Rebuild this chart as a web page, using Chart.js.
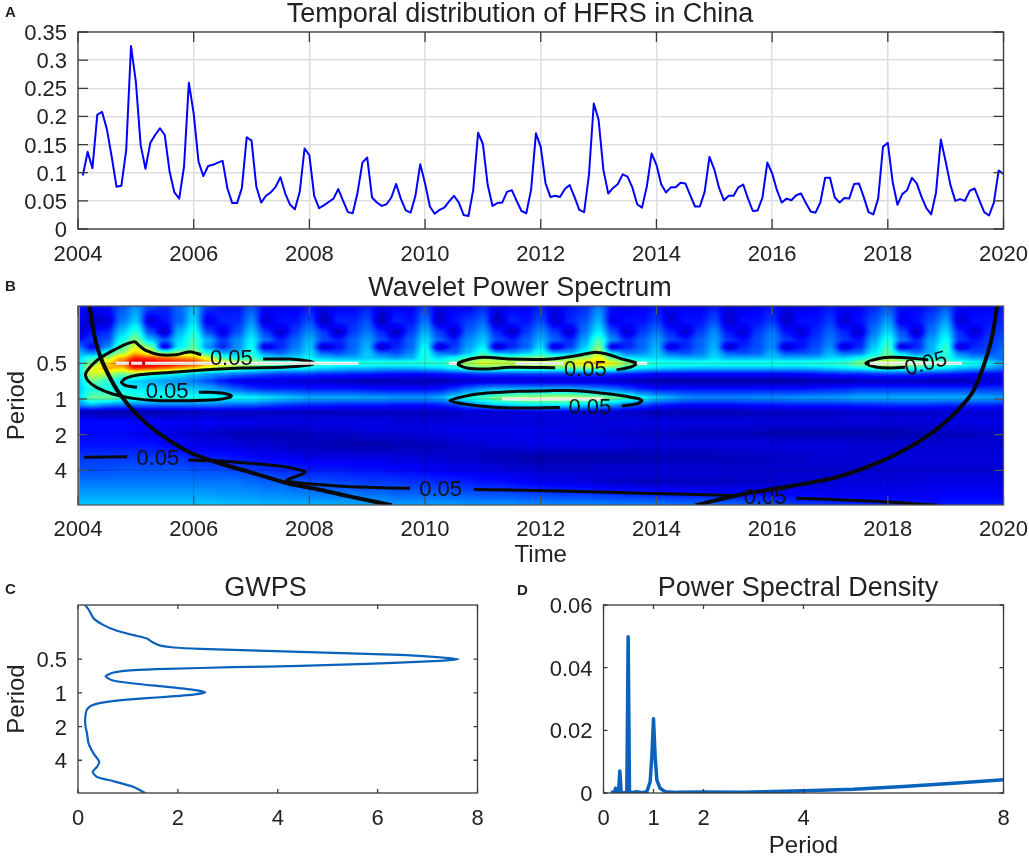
<!DOCTYPE html>
<html>
<head>
<meta charset="utf-8">
<style>
html, body { margin: 0; padding: 0; background: #fff; overflow: hidden; }
#page { position: relative; width: 1029px; height: 857px; overflow: hidden; }
canvas { position: absolute; }
.letter { position: absolute; font: bold 15px "Liberation Sans", Arial, sans-serif; color: #222; }
</style>
<script src="https://cdn.jsdelivr.net/npm/chart.js@4"></script>
</head>
<body>
<div id="page">
  <canvas id="panelA"></canvas>
  <canvas id="panelB"></canvas>
  <canvas id="panelC"></canvas>
  <canvas id="panelD"></canvas>
  <div class="letter" style="left:5px;top:3px">A</div>
  <div class="letter" style="left:5px;top:277px">B</div>
  <div class="letter" style="left:5px;top:580px">C</div>
  <div class="letter" style="left:517px;top:581px">D</div>
</div>
<script>
// A: monthly HFRS series, 2004-2019
const hfrs = [
  .095,.137,.108,.203,.208,.177,.128,.075,.077,.14,.325,.262,
  .149,.107,.153,.167,.179,.167,.102,.065,.054,.111,.26,.205,
  .12,.094,.112,.114,.118,.121,.072,.046,.046,.073,.163,.157,
  .075,.047,.059,.065,.075,.092,.063,.043,.035,.066,.143,.131,
  .059,.037,.042,.048,.054,.071,.05,.03,.028,.065,.118,.127,
  .056,.047,.041,.044,.056,.08,.053,.033,.029,.059,.115,.081,
  .04,.027,.034,.038,.049,.059,.047,.025,.023,.07,.171,.151,
  .078,.041,.046,.047,.066,.069,.05,.032,.028,.07,.17,.146,
  .081,.057,.059,.057,.071,.078,.057,.034,.03,.096,.223,.194,
  .105,.063,.073,.08,.097,.093,.074,.044,.038,.075,.134,.114,
  .079,.065,.074,.074,.082,.081,.06,.04,.04,.066,.128,.106,
  .073,.051,.059,.059,.074,.079,.054,.032,.033,.056,.118,.099,
  .069,.047,.054,.051,.06,.063,.046,.031,.029,.047,.091,.091,
  .056,.047,.055,.054,.08,.081,.057,.03,.026,.054,.146,.153,
  .084,.043,.062,.069,.091,.081,.057,.037,.026,.065,.159,.12,
  .078,.05,.053,.05,.068,.072,.051,.03,.024,.047,.104,.098
];
const yearTicks = [2004, 2006, 2008, 2010, 2012, 2014, 2016, 2018, 2020];
const hfrsTicks = [0, .05, .1, .15, .2, .25, .3, .35];
const periodTicks = [.5, 1, 2, 4];
const periodMin = .164, periodMax = 7.85;

// B: wavelet power, colour level 0-100. One row per period, one column per quarter year
const heatStart = 2004, heatStep = .25, heatLeftEdge = 2004.03;
const heatPeriods = [.1645, .22, .272, .318, .364, .409, .451, .5, .548, .616, .705, .824, .98, 1.124, 1.287, 1.563, 1.936, 2.44, 3.14, 3.97, 5.01, 6.32, 7.85];
const heatLevels = [
  [14,12,14,20, 26,20,16,22, 30,18,14,14, 20,13,12,12, 14,10,12,12, 15,10,12,12, 18,10,12,12, 16,10,12,12, 15,10,14,16, 24,14,10,12, 14,11,12,12, 14,10,10,12, 14,10,10,12, 14,12,12,16, 20,14,13,15, 20,13,12,12, 14],
  [12,6,8,24, 32,8,14,22, 34,10,16,16, 26,8,14,14, 20,6,16,16, 20,6,16,14, 24,7,14,18, 22,6,16,14, 20,8,16,20, 30,10,14,14, 18,8,14,14, 20,7,14,14, 18,7,14,14, 18,8,14,20, 28,10,14,20, 28,8,14,14, 16],
  [7,14,16,32, 42,20,7,30, 40,20,10,20, 32,18,7,18, 26,18,6,18, 24,16,6,18, 30,18,8,22, 28,16,7,18, 26,18,8,24, 36,20,8,18, 24,16,8,18, 26,14,8,18, 24,14,8,16, 22,16,8,24, 34,20,7,24, 34,16,8,16, 18],
  [14,18,20,38, 50,32,22,34, 44,30,18,26, 36,24,16,22, 30,20,16,22, 28,20,14,22, 34,22,16,26, 32,20,16,22, 30,22,16,28, 44,26,16,22, 28,20,16,22, 28,18,14,20, 26,18,14,18, 24,18,14,28, 40,24,16,28, 38,18,14,18, 20],
  [24,12,26,44, 58,50,8,36, 46,26,16,26, 38,8,16,24, 32,7,14,22, 30,6,16,22, 38,7,18,28, 36,6,16,22, 34,7,18,32, 50,8,16,22, 30,8,16,22, 30,7,16,20, 26,7,14,20, 26,8,16,32, 44,8,16,30, 42,8,16,18, 22],
  [30,26,40,52, 68,60,50,52, 54,40,30,30, 40,26,22,28, 34,22,20,24, 32,22,20,26, 40,24,22,32, 42,30,28,32, 40,30,30,38, 56,34,24,26, 32,22,20,24, 32,22,20,22, 30,20,20,22, 30,22,24,36, 46,32,24,30, 42,24,20,20, 24],
  [34,42,54,70, 84,82,78,74, 72,60,44,40, 44,36,34,34, 36,32,30,30, 32,30,28,30, 40,34,38,44, 52,50,48,50, 50,48,50,54, 62,46,36,34, 34,32,30,30, 34,30,30,30, 32,30,30,30, 34,34,38,44, 50,46,40,38, 40,32,28,26, 22],
  [36,50,66,78, 94,93,91,89, 86,76,68,62, 56,52,48,47, 46,44,43,42, 42,42,42,42, 42,42,46,55, 60,58,57,57, 58,59,60,66, 70,62,52,46, 42,41,41,41, 41,41,41,41, 41,41,41,42, 42,44,50,56, 62,58,54,50, 47,44,40,36, 30],
  [36,60,70,68, 84,82,78,72, 66,56,50,46, 44,40,38,38, 37,35,33,32, 32,30,30,30, 32,34,38,44, 46,46,46,46, 46,46,48,50, 52,46,40,36, 34,33,32,31, 31,31,31,31, 31,31,31,32, 34,36,38,42, 44,42,40,38, 36,32,30,28, 24],
  [35,58,56,48, 50,42,38,36, 32,28,26,24, 22,20,18,18, 18,16,16,15, 15,14,13,13, 13,14,15,16, 18,18,18,18, 18,18,18,18, 18,17,15,14, 12,12,12,12, 12,12,12,12, 12,12,13,14, 15,16,16,17, 18,18,17,16, 15,14,13,12, 12],
  [33,48,42,36, 33,30,28,26, 24,20,14,10, 9,9,9,8, 8,7,6,6, 5,5,5,5, 5,5,6,7, 8,8,8,8, 8,8,8,8, 8,7,6,5, 5,4,4,4, 4,4,4,4, 4,4,4,5, 5,5,6,6, 6,6,6,5, 5,5,6,8, 10],
  [33,40,40,38, 36,35,34,33, 32,30,26,22, 18,16,16,16, 15,15,15,15, 14,13,13,13, 13,14,18,24, 28,30,30,30, 30,30,30,28, 26,24,20,16, 14,14,14,14, 14,14,14,14, 14,14,14,15, 16,16,18,18, 18,18,18,18, 18,18,18,18, 18],
  [34,48,48,44, 42,40,40,40, 40,40,38,38, 38,36,34,32, 30,30,30,30, 29,29,28,28, 28,30,36,40, 44,50,52,54, 55,56,56,54, 52,48,44,38, 33,30,27,26, 26,26,26,27, 27,27,28,28, 28,29,30,30, 30,30,30,30, 30,30,30,29, 28],
  [26,30,26,24, 24,24,24,24, 24,24,23,22, 22,20,18,17, 16,16,15,15, 15,15,14,14, 14,15,18,24, 28,32,34,36, 36,36,36,34, 32,28,24,20, 16,14,13,13, 13,13,14,14, 14,15,15,15, 15,15,16,16, 17,17,17,17, 16,16,16,16, 15],
  [6,5,4,4, 4,4,5,5, 6,6,6,6, 6,6,6,6, 6,6,6,6, 6,6,6,6, 6,6,7,8, 8,8,8,9, 9,9,9,9, 8,8,7,6, 5,5,5,5, 5,5,5,6, 6,6,6,6, 6,7,7,7, 7,7,7,7, 8,8,8,8, 8],
  [13,13,13,13, 13,13,12,12, 12,12,11,11, 11,10,10,10, 10,10,10,10, 10,10,9,9, 9,9,9,9, 9,9,9,9, 9,9,9,9, 9,9,10,10, 10,10,10,10, 10,10,10,9, 9,9,9,9, 9,9,9,9, 9,9,9,9, 10,10,10,10, 10],
  [13,13,13,13, 12,11,10,9, 8,8,7,6, 6,6,6,6, 7,8,8,8, 9,9,9,9, 10,10,11,11, 11,11,11,11, 11,10,10,9, 9,8,8,7, 7,7,6,6, 6,6,6,6, 5,5,5,5, 5,5,5,5, 5,5,6,6, 7,7,7,8, 8],
  [14,14,14,14, 14,14,13,12, 11,10,10,9, 8,8,7,6, 6,5,5,4, 4,4,5,5, 6,6,7,8, 8,9,9,10, 10,10,10,10, 10,10,9,9, 9,9,9,9, 9,9,9,9, 9,9,9,9, 9,9,8,8, 8,8,8,8, 8,8,8,8, 8],
  [18,18,18,18, 18,18,17,17, 16,15,15,14, 13,12,12,11, 10,10,10,10, 10,10,9,9, 8,8,7,7, 6,5,5,4, 4,4,4,4, 4,4,4,4, 5,5,5,5, 5,6,6,6, 7,7,7,8, 8,8,8,9, 9,9,9,9, 9,9,9,9, 9],
  [20,20,20,21, 21,21,21,21, 20,20,20,19, 18,17,16,16, 15,15,15,14, 14,14,13,13, 12,12,11,11, 10,10,9,9, 8,8,8,8, 9,9,9,9, 9,9,9,9, 9,8,8,8, 8,8,8,8, 8,8,8,8, 8,8,8,8, 8,8,8,8, 8],
  [24,24,24,24, 24,24,24,24, 24,24,24,24, 23,22,22,21, 20,20,19,19, 18,18,18,17, 17,16,16,15, 14,14,13,12, 11,10,10,9, 8,7,7,6, 6,6,6,6, 6,6,7,7, 7,8,8,8, 8,9,9,9, 9,9,9,10, 10,10,10,10, 10],
  [28,28,28,28, 28,28,28,28, 28,28,27,27, 27,26,26,25, 25,24,24,24, 23,23,22,22, 22,22,21,21, 20,20,20,19, 19,18,18,18, 17,17,16,16, 15,15,14,14, 14,14,13,13, 12,12,12,12, 11,11,11,11, 11,11,11,11, 12,12,12,12, 12],
  [32,32,32,32, 32,32,32,32, 32,32,32,31, 31,30,30,30, 30,30,29,29, 29,29,28,28, 28,28,28,27, 27,27,27,26, 26,26,26,26, 26,25,25,25, 25,24,24,24, 23,23,22,21, 20,19,18,18, 17,17,16,16, 16,15,15,15, 15,15,15,15, 15]
];

// B: 5% significance contours, null breaks the line where a label sits
const contourTimes = [
  2006.13,2005.93,2005.7,2005.41,2005.18,2005.06,2004.98,2004.83,2004.6,2004.4,2004.23,2004.13,2004.17,2004.32,2004.6,2004.95,2005.41,2005.93,2006.39,2006.62,2006.65,2006.51,2006.28,2006.09,null,
  2005.02,2004.83,2004.75,2004.83,2005.06,2005.58,2006.16,2006.85,2007.54,2008,2008.09,2008,2007.66,2007.2,null,
  2012.25,2011.47,2011.07,2010.72,2010.56,2010.72,2011.01,2011.47,2012.05,2012.39,2012.68,2012.91,2013.14,2013.43,2013.66,2013.57,2013.31,null,
  2012.33,2011.47,2010.9,2010.43,2010.9,2011.59,2012.16,2012.62,2013.2,2013.66,2013.75,2013.66,2013.4,null,
  2018.3,2018.04,2017.81,2017.62,2017.81,2018.04,2018.38,2018.7,null,
  2004.1,2004.85,null,
  2005.91,2006.4,2006.98,2007.55,2007.84,2007.93,2007.84,2007.61,2007.73,2008.42,2009,2009.74,null,
  2010.84,2011.47,2013.2,2014.35,2015.36,null,
  2016.42,2017.23,2018.1,2018.87
];
const contourPeriods = [
  .423,.399,.423,.423,.391,.355,.328,.344,.391,.445,.523,.615,.7,.797,.907,.988,1.033,1.033,1.013,.969,.938,.896,.878,.878,null,
  .797,.772,.723,.665,.623,.596,.569,.547,.54,.517,.5,.481,.46,.46,null,
  .544,.54,.558,.547,.505,.468,.445,.46,.463,.448,.425,.404,.417,.463,.5,.534,.569,null,
  1.18,1.19,1.138,1.033,.907,.861,.85,.85,.907,.987,1.033,1.1,1.146,null,
  .54,.547,.54,.5,.46,.445,.45,.468,null,
  3.11,3.07,null,
  3.27,3.32,3.49,3.72,3.98,4.13,4.38,4.83,5.05,5.39,5.57,5.68,null,
  5.82,5.86,6.13,6.34,6.54,null,
  6.89,7.12,7.45,7.89
];
const contourLabelTimes = [2006.65, 2005.54, 2005.38, 2010.27, 2012.77, 2012.85, 2018.66, 2015.88];
const contourLabelPeriods = [.46, .878, 3.2, 5.86, .569, 1.2, .51, 6.89];
const contourLabelAngles = [0, 0, 0, 0, 0, 0, -15, 0];

// B: cone of influence
const coneTimes = [2004.2,2004.27,2004.37,2004.52,2004.72,2005.01,2005.41,2005.93,2006.39,2006.97,2007.66,2008.12,2008.71,2009.43,null,2014.67,2015.5,2015.97,2017.12,2017.98,2018.56,2018.96,2019.31,2019.48,2019.65,2019.8,2019.89];
const conePeriods = [.164,.27,.417,.615,.906,1.34,1.97,2.82,3.42,4.14,5.2,5.75,6.67,7.89,null,7.89,6.34,5.8,4.57,3.2,2.25,1.625,1.1,.85,.536,.302,.164];

// B: white ridge lines along the power maxima
const ridgeTimes = [2004.65,2004.88,null,2004.92,2005.11,null,2005.16,2008.85,null,2010.41,2010.55,null,2011.56,2012.39,null,2013.66,2013.84,null,2017.69,2019.28,null,2011.33,2013.08];
const ridgePeriods = [.5,.5,null,.5,.5,null,.5,.5,null,.5,.5,null,.5,.5,null,.5,.5,null,.5,.5,null,1,1];

// C: global wavelet power spectrum
const gwpsPower = [.147,.213,.313,.513,.78,1.113,1.38,1.513,1.647,1.913,2.447,3.78,5.113,6.447,7.113,7.613,7.113,5.78,4.447,3.113,1.78,1.113,.713,.553,.68,1.113,1.78,2.313,2.547,2.313,1.647,1.113,.58,.28,.18,.147,.147,.18,.213,.313,.427,.38,.293,.38,.713,1.113,1.347];
const gwpsPeriod = [.165,.18,.216,.248,.279,.305,.327,.357,.378,.393,.404,.421,.439,.457,.477,.5,.521,.55,.574,.59,.61,.627,.658,.71,.771,.825,.884,.94,.986,1.035,1.094,1.139,1.203,1.289,1.409,1.64,1.946,2.31,2.84,3.49,4.14,4.59,5.09,5.64,6.16,6.93,7.84];
const gwpsTicks = [0, 2, 4, 6, 8];

// D: power spectral density
const psdPeriod = [.147,.22,.24,.26,.3,.327,.353,.43,.467,.493,.52,.547,.667,.767,.867,.933,.967,1,1.033,1.067,1.133,1.233,1.467,2,2.8,4,5,6,7,8];
const psdPower = [.0002,.0002,.0015,.0002,.0002,.007,.0001,.0001,.0004,.0499,.0007,.0001,.0004,.0001,.0004,.0036,.0116,.0237,.0116,.0041,.0015,.0004,.0002,.0003,.0002,.0007,.0012,.0021,.0031,.0042];
const psdPeriodTicks = [0, 1, 2, 4, 8];
const psdTicks = [0, .02, .04, .06];

const FONT = '"Liberation Sans", Arial, sans-serif';
const INK = '#222';
Chart.defaults.font.family = FONT;
Chart.defaults.color = INK;
Chart.defaults.animation = false;

// jet colormap, level in 0..1
function jet(v) {
  const c = (a) => Math.max(0, Math.min(1, a));
  return [c(1.5 - Math.abs(4 * v - 3)) * 255, c(1.5 - Math.abs(4 * v - 2)) * 255, c(1.5 - Math.abs(4 * v - 1)) * 255];
}

function levelAt(t, p) {
  const fc = Math.max(0, Math.min(heatLevels[0].length - 1.001, (t - heatStart) / heatStep));
  const c = Math.floor(fc);
  let dx = fc - c;
  dx = dx * dx * (3 - 2 * dx);
  let r = 0;
  while (r < heatPeriods.length - 2 && heatPeriods[r + 1] < p) r++;
  const dy = Math.max(0, Math.min(1, Math.log(p / heatPeriods[r]) / Math.log(heatPeriods[r + 1] / heatPeriods[r])));
  const a = heatLevels[r], b = heatLevels[r + 1];
  return ((a[c] * (1 - dx) + a[c + 1] * dx) * (1 - dy) + (b[c] * (1 - dx) + b[c + 1] * dx) * dy) / 100;
}

// paints the power matrix inside the plot, through the chart's own scales
const heatPlugin = {
  id: 'heat',
  beforeDatasetsDraw(chart) {
    const { ctx, chartArea: a, scales } = chart;
    const w = Math.round(a.right - a.left), h = Math.round(a.bottom - a.top);
    const img = ctx.createImageData(w, h);
    for (let j = 0; j < h; j++) {
      const p = scales.y.getValueForPixel(a.top + j + .5);
      for (let i = 0; i < w; i++) {
        const t = scales.x.getValueForPixel(a.left + i + .5);
        const rgb = t < heatLeftEdge ? [130, 130, 130] : jet(levelAt(t, p));
        const k = (j * w + i) * 4;
        img.data[k] = rgb[0]; img.data[k + 1] = rgb[1]; img.data[k + 2] = rgb[2]; img.data[k + 3] = 255;
      }
    }
    ctx.putImageData(img, a.left, a.top);
  }
};

// "0.05" labels on the contours
const contourLabelPlugin = {
  id: 'contourLabels',
  afterDatasetsDraw(chart) {
    const { ctx, scales } = chart;
    ctx.save();
    ctx.font = '22px ' + FONT;
    ctx.fillStyle = '#111';
    ctx.textAlign = 'center';
    ctx.textBaseline = 'middle';
    contourLabelTimes.forEach((t, i) => {
      ctx.save();
      ctx.translate(scales.x.getPixelForValue(t), scales.y.getPixelForValue(contourLabelPeriods[i]));
      ctx.rotate(contourLabelAngles[i] * Math.PI / 180);
      ctx.fillText('0.05', 0, 0);
      ctx.restore();
    });
    ctx.restore();
  }
};

// MATLAB style box: frame plus inward ticks on all four sides
function boxPlugin(tickLen, stroke, lineW, overGrid) {
  return {
    id: 'box',
    afterDatasetsDraw(chart) {
      const { ctx, chartArea: a, scales } = chart;
      ctx.save();
      if (overGrid) {
        ctx.strokeStyle = overGrid;
        ctx.lineWidth = 1;
        ctx.beginPath();
        scales.x.ticks.forEach(t => { const x = scales.x.getPixelForValue(t.value); ctx.moveTo(x, a.top); ctx.lineTo(x, a.bottom); });
        scales.y.ticks.forEach(t => { const y = scales.y.getPixelForValue(t.value); ctx.moveTo(a.left, y); ctx.lineTo(a.right, y); });
        ctx.stroke();
      }
      ctx.strokeStyle = stroke;
      ctx.lineWidth = lineW;
      ctx.beginPath();
      scales.x.ticks.forEach(t => {
        const x = scales.x.getPixelForValue(t.value);
        ctx.moveTo(x, a.top); ctx.lineTo(x, a.top + tickLen);
        ctx.moveTo(x, a.bottom); ctx.lineTo(x, a.bottom - tickLen);
      });
      scales.y.ticks.forEach(t => {
        const y = scales.y.getPixelForValue(t.value);
        ctx.moveTo(a.left, y); ctx.lineTo(a.left + tickLen, y);
        ctx.moveTo(a.right, y); ctx.lineTo(a.right - tickLen, y);
      });
      ctx.stroke();
      ctx.strokeRect(a.left, a.top, a.right - a.left, a.bottom - a.top);
      ctx.restore();
    }
  };
}

function points(xs, ys) {
  return xs.map((x, i) => ({ x: x, y: ys[i] }));
}

function lineSet(data, color, width, tension) {
  return { data: data, showLine: true, borderColor: color, borderWidth: width, pointRadius: 0, tension: tension || 0, spanGaps: false, borderJoinStyle: 'round' };
}

function setTicks(list) {
  return (axis) => { axis.ticks = list.map(v => ({ value: v })); };
}

function drawPanel(id, p) {
  const canvas = document.getElementById(id);
  canvas.width = p.right - p.left;
  canvas.height = p.area.bottom + p.xHeight - p.top;
  canvas.style.left = p.left + 'px';
  canvas.style.top = p.top + 'px';

  const tickFont = { size: 22, lineHeight: 1.1 };
  const gridOpt = p.grid ? { color: '#dedede', lineWidth: 1.5, drawTicks: false } : { display: false, drawTicks: false };
  const xScale = {
    type: 'linear', min: p.xMin, max: p.xMax,
    afterBuildTicks: setTicks(p.xTicks),
    // end labels must not push the plot edge in
    afterFit(s) { s.height = p.xHeight; s.paddingLeft = 0; s.paddingRight = 0; },
    grid: gridOpt, border: { display: false },
    ticks: { font: tickFont, color: INK, padding: p.xPad, autoSkip: false, maxRotation: 0, callback: v => String(v) },
    title: p.xTitle ? { display: true, text: p.xTitle, color: INK, font: { size: 24, lineHeight: 1 }, padding: 0 } : { display: false }
  };
  const yScale = {
    type: p.yLog ? 'logarithmic' : 'linear', min: p.yMin, max: p.yMax, reverse: !!p.yLog,
    afterBuildTicks: setTicks(p.yTicks),
    afterFit(s) { s.width = p.area.left - p.left; s.paddingTop = 0; s.paddingBottom = 0; },
    grid: gridOpt, border: { display: false },
    ticks: { font: tickFont, color: INK, padding: 11, labelOffset: 2, autoSkip: false, callback: v => String(v) },
    title: p.yTitle ? { display: true, text: p.yTitle, color: INK, font: { size: 24, lineHeight: 1 }, padding: { top: 5, bottom: 0 } } : { display: false }
  };
  // empty right-hand axis holds the margin, so the full-width title keeps the canvas centre
  const gapScale = {
    position: 'right', min: 0, max: 1,
    afterFit(s) { s.width = p.right - p.area.right; },
    ticks: { display: false }, grid: { display: false }, border: { display: false }
  };

  new Chart(canvas, {
    type: 'scatter',
    data: { datasets: p.datasets },
    options: {
      responsive: false,
      animation: false,
      events: [],
      layout: { autoPadding: false, padding: 0 },
      plugins: {
        legend: { display: false },
        tooltip: { enabled: false },
        title: { display: true, text: p.title, color: INK, font: { size: 27, weight: 'normal', lineHeight: 1 }, padding: { top: 0, bottom: p.area.top - p.top - 27 } }
      },
      scales: { x: xScale, y: yScale, gap: gapScale }
    },
    plugins: p.plugins
  });
}

drawPanel('panelA', {
  left: 0, right: 1040, top: 1, area: { left: 78, right: 1003.5, top: 32, bottom: 229 },
  title: 'Temporal distribution of HFRS in China', xHeight: 38, xPad: 14, grid: true,
  xMin: 2004, xMax: 2020, xTicks: yearTicks, yMin: 0, yMax: .35, yTicks: hfrsTicks,
  datasets: [lineSet(hfrs.map((v, i) => ({ x: 2004 + (i + 1) / 12, y: v })), '#0000ff', 2)],
  plugins: [boxPlugin(10, '#3a3a3a', 1.3)]
});

drawPanel('panelB', {
  left: 0, right: 1040, top: 275, area: { left: 78, right: 1003.5, top: 306, bottom: 505 },
  title: 'Wavelet Power Spectrum', xHeight: 62, xPad: 13, xTitle: 'Time', yTitle: 'Period', yLog: true,
  xMin: 2004, xMax: 2020, xTicks: yearTicks, yMin: periodMin, yMax: periodMax, yTicks: periodTicks,
  datasets: [
    lineSet(points(ridgeTimes, ridgePeriods), '#ffffff', 3),
    lineSet(points(contourTimes, contourPeriods), '#0a0a0a', 3, .25),
    lineSet(points(coneTimes, conePeriods), '#0a0a0a', 4, .3)
  ],
  plugins: [heatPlugin, contourLabelPlugin, boxPlugin(9, '#555', 1.3, 'rgba(0,0,0,.18)')]
});

drawPanel('panelC', {
  left: 0, right: 531, top: 575, area: { left: 78, right: 477.5, top: 605, bottom: 793 },
  title: 'GWPS', xHeight: 40, xPad: 14, yTitle: 'Period', yLog: true,
  xMin: 0, xMax: 8, xTicks: gwpsTicks, yMin: periodMin, yMax: periodMax, yTicks: periodTicks,
  datasets: [lineSet(points(gwpsPower, gwpsPeriod), '#0a62bd', 2.2, .2)],
  plugins: [boxPlugin(4, '#3a3a3a', 1.3)]
});

drawPanel('panelD', {
  left: 548, right: 1048, top: 575, area: { left: 603.5, right: 1003.5, top: 605, bottom: 793 },
  title: 'Power Spectral Density', xHeight: 65, xPad: 14, xTitle: 'Period',
  xMin: 0, xMax: 8, xTicks: psdPeriodTicks, yMin: 0, yMax: .06, yTicks: psdTicks,
  datasets: [lineSet(points(psdPeriod, psdPower), '#0a62bd', 3.5)],
  plugins: [boxPlugin(4, '#3a3a3a', 1.3)]
});
</script>
</body>
</html>
